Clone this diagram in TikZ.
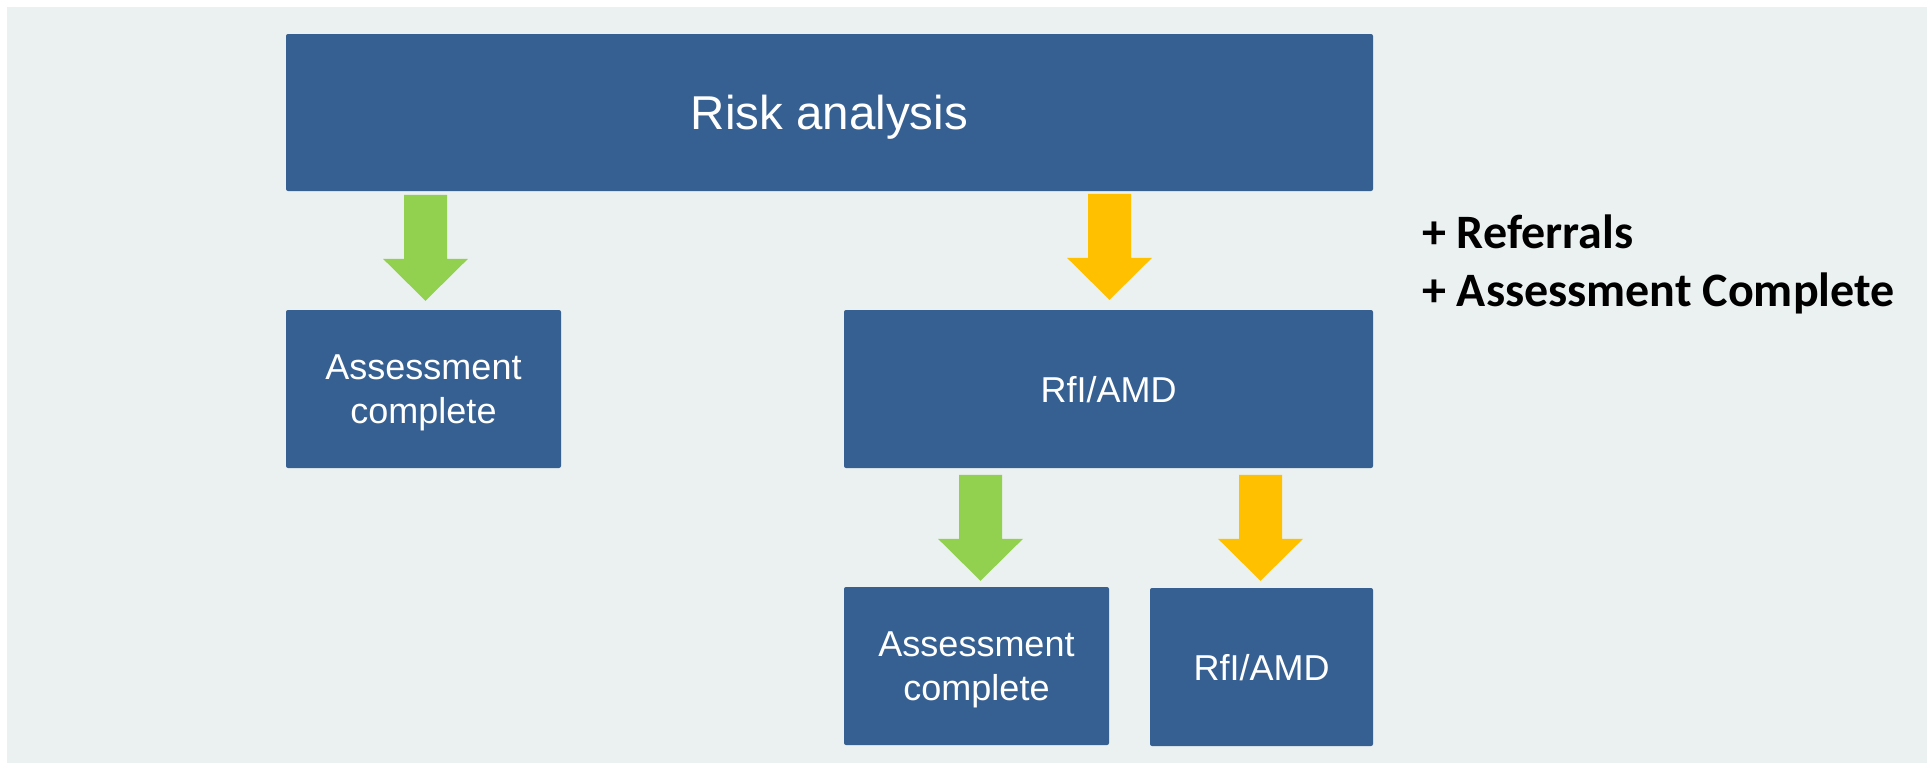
\documentclass[tikz,border=0pt]{standalone}
\usepackage{fontspec}
\setmainfont{Liberation Sans}
\newfontfamily\notefont{Carlito}
\usepackage{tikz}
\usetikzlibrary{calc}
\definecolor{pagebg}{HTML}{EBF1F1}
\definecolor{boxblue}{HTML}{376092}
\definecolor{arrowgreen}{HTML}{92D050}
\definecolor{arrowyellow}{HTML}{FFC000}

\begin{document}
\begin{tikzpicture}[x=1pt,y=-1pt,
box/.style = {
  fill=boxblue, draw=none, rounded corners=2pt, text=white, align=center,
  inner sep=0pt, text depth=0pt, minimum height=158pt, font=\fontsize{36}{44}\selectfont
},
bigbox/.style = {
  box, minimum width=1087pt, minimum height=157pt, font=\fontsize{47.5}{57}\selectfont
},
note/.style = {
  anchor=base west, inner sep=0pt, font=\notefont\bfseries\fontsize{48}{57}\selectfont
}
]

\useasboundingbox (0,0) rectangle (1930,763);
\fill [pagebg] (7,7) rectangle (1927,763);

% boxes
\node [bigbox] (risk) at (829.5,112.5) {Risk analysis};
\node [box, minimum width=275pt] (doneA) at (423.5,389) {Assessment\\complete};
\node [box, minimum width=529pt] (rfiA) at (1108.5,389) {RfI/AMD};
\node [box, minimum width=265pt] (doneB) at (976.5,666) {Assessment\\complete};
\node [box, minimum width=223pt] (rfiB) at (1261.5,667) {RfI/AMD};

% block arrows
\pgfmathsetmacro{\shaft}{21.5}
\pgfmathsetmacro{\head}{42.5}
\coordinate (g1) at ($ (doneA.north) + (2,-115) $);
\coordinate (y1) at ($ (rfiA.north) + (1,-116) $);
\coordinate (g2) at ($ (doneB.north) + (4,-112) $);
\coordinate (y2) at ($ (rfiB.north) + (-1,-113) $);

\foreach \p/\c in {g1/arrowgreen, y1/arrowyellow, g2/arrowgreen, y2/arrowyellow}
  \fill [\c] ($ (\p) + (-\shaft,0) $)
    -- ($ (\p) + (-\shaft,64) $)
    -- ($ (\p) + (-\head,64) $)
    -- ($ (\p) + (0,106) $)
    -- ($ (\p) + (\head,64) $)
    -- ($ (\p) + (\shaft,64) $)
    -- ($ (\p) + (\shaft,0) $)
    -- cycle;

% note on the right
\node [note] (refs) at (1422,248) {+ Referrals};
\node [note] (acomp) at ($ (refs.base west) + (0,58) $) {+ Assessment Complete};

\end{tikzpicture}
\end{document}
